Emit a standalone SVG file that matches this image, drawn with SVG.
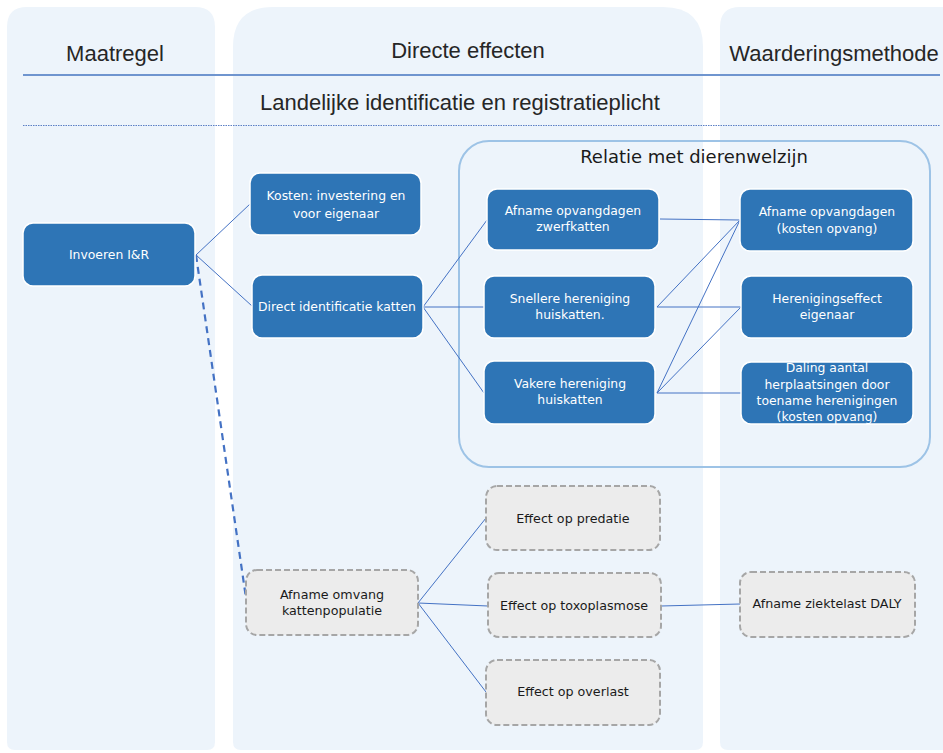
<svg xmlns="http://www.w3.org/2000/svg" width="943" height="753" viewBox="0 0 943 753">
<style>
.col{fill:#edf4fb}
.hdr{font-family:"Liberation Sans",Arial,sans-serif;font-size:22px;fill:#262626;text-anchor:middle}
.blue rect{fill:#2e75b6;stroke:#ffffff;stroke-width:1.5}
.blue text{font-family:"DejaVu Sans",Verdana,sans-serif;font-size:12.4px;fill:#ffffff;text-anchor:middle}
.grey rect{fill:#ececec;stroke:#a6a6a6;stroke-width:2;stroke-dasharray:6 3}
.grey text{font-family:"DejaVu Sans",Verdana,sans-serif;font-size:12.7px;fill:#1a1a1a;text-anchor:middle}
.con line{stroke:#4472c4;stroke-width:1}
.con .dash{stroke-width:2.2;stroke-dasharray:7 5}
</style>
<rect x="0" y="0" width="943" height="753" fill="#ffffff"/>
<g id="columns">
<path class="col" d="M7,27 Q7,7 27,7 H195 Q215,7 215,27 V742 Q215,750 207,750 H15 Q7,750 7,742 Z"/>
<path class="col" d="M233,47 Q233,7 273,7 H663 Q703,7 703,47 V742 Q703,750 695,750 H241 Q233,750 233,742 Z"/>
<path class="col" d="M720,27 Q720,7 740,7 H943 V750 H728 Q720,750 720,742 Z"/>
</g>
<g id="headers">
<text class="hdr" x="115" y="61">Maatregel</text>
<text class="hdr" x="468" y="58">Directe effecten</text>
<text class="hdr" x="834" y="61">Waarderingsmethode</text>
<line x1="23" y1="75" x2="940" y2="75" stroke="#6f95cf" stroke-width="1.8"/>
<text class="hdr" x="460" y="110">Landelijke identificatie en registratieplicht</text>
<line x1="23" y1="125.5" x2="940" y2="125.5" stroke="#5b7fc4" stroke-width="1" stroke-dasharray="1.5 1"/>
</g>
<g id="relatie">
<rect x="459" y="141" width="471" height="326" rx="30" fill="none" stroke="#9dc3e6" stroke-width="2"/>
<text x="694" y="163" font-family="DejaVu Sans,Verdana,sans-serif" font-size="18" fill="#1a1a1a" text-anchor="middle">Relatie met dierenwelzijn</text>
</g>
<g id="connectors" class="con">
<line x1="196" y1="255" x2="250" y2="204"/>
<line x1="196" y1="255" x2="252" y2="306"/>
<line class="dash" x1="196" y1="255" x2="246" y2="598"/>
<line x1="423" y1="307" x2="487" y2="220"/>
<line x1="423" y1="307" x2="484" y2="307"/>
<line x1="423" y1="307" x2="484" y2="393"/>
<line x1="660" y1="219" x2="740" y2="220"/>
<line x1="657" y1="307" x2="740" y2="220"/>
<line x1="657" y1="307" x2="741" y2="307"/>
<line x1="657" y1="393" x2="740" y2="220"/>
<line x1="657" y1="393" x2="741" y2="307"/>
<line x1="657" y1="393" x2="741" y2="393"/>
<line x1="418" y1="603" x2="486" y2="518"/>
<line x1="418" y1="603" x2="488" y2="606"/>
<line x1="418" y1="603" x2="486" y2="692"/>
<line x1="661" y1="606" x2="740" y2="604"/>
</g>
<g id="n-invoeren" class="blue"><rect x="23" y="223" width="172" height="63" rx="10"/><text x="109" y="259">Invoeren I&amp;R</text></g>
<g id="n-kosten" class="blue"><rect x="250" y="173" width="171" height="62" rx="10"/><text x="336" y="200">Kosten: investering en</text><text x="336" y="218">voor eigenaar</text></g>
<g id="n-direct" class="blue"><rect x="252" y="275" width="171" height="63" rx="10"/><text x="337" y="311">Direct identificatie katten</text></g>
<g id="n-zwerf" class="blue"><rect x="487" y="189" width="172" height="61" rx="10"/><text x="573" y="215">Afname opvangdagen</text><text x="573" y="231">zwerfkatten</text></g>
<g id="n-snellere" class="blue"><rect x="484" y="276" width="171" height="62" rx="10"/><text x="570" y="303">Snellere hereniging</text><text x="570" y="319">huiskatten.</text></g>
<g id="n-vakere" class="blue"><rect x="484" y="361" width="171" height="63" rx="10"/><text x="570" y="388">Vakere hereniging</text><text x="570" y="404">huiskatten</text></g>
<g id="n-opvang" class="blue"><rect x="740" y="189" width="173" height="62" rx="10"/><text x="827" y="216">Afname opvangdagen</text><text x="827" y="233">(kosten opvang)</text></g>
<g id="n-herenigingseffect" class="blue"><rect x="741" y="276" width="172" height="62" rx="10"/><text x="827" y="303">Herenigingseffect</text><text x="827" y="319">eigenaar</text></g>
<g id="n-daling" class="blue"><rect x="741" y="362" width="172" height="62" rx="10"/><text x="827" y="372">Daling aantal</text><text x="827" y="389">herplaatsingen door</text><text x="827" y="405">toename herenigingen</text><text x="827" y="421">(kosten opvang)</text></g>
<g id="n-omvang" class="grey"><rect x="246" y="570" width="172" height="65" rx="11"/><text x="332" y="599">Afname omvang</text><text x="332" y="615">kattenpopulatie</text></g>
<g id="n-predatie" class="grey"><rect x="486" y="486" width="174" height="64" rx="11"/><text x="573" y="523">Effect op predatie</text></g>
<g id="n-toxo" class="grey"><rect x="488" y="573" width="173" height="64" rx="11"/><text x="574" y="610">Effect op toxoplasmose</text></g>
<g id="n-overlast" class="grey"><rect x="486" y="660" width="174" height="65" rx="11"/><text x="573" y="696">Effect op overlast</text></g>
<g id="n-daly" class="grey"><rect x="740" y="572" width="175" height="65" rx="11"/><text x="827" y="608">Afname ziektelast DALY</text></g>
</svg>
